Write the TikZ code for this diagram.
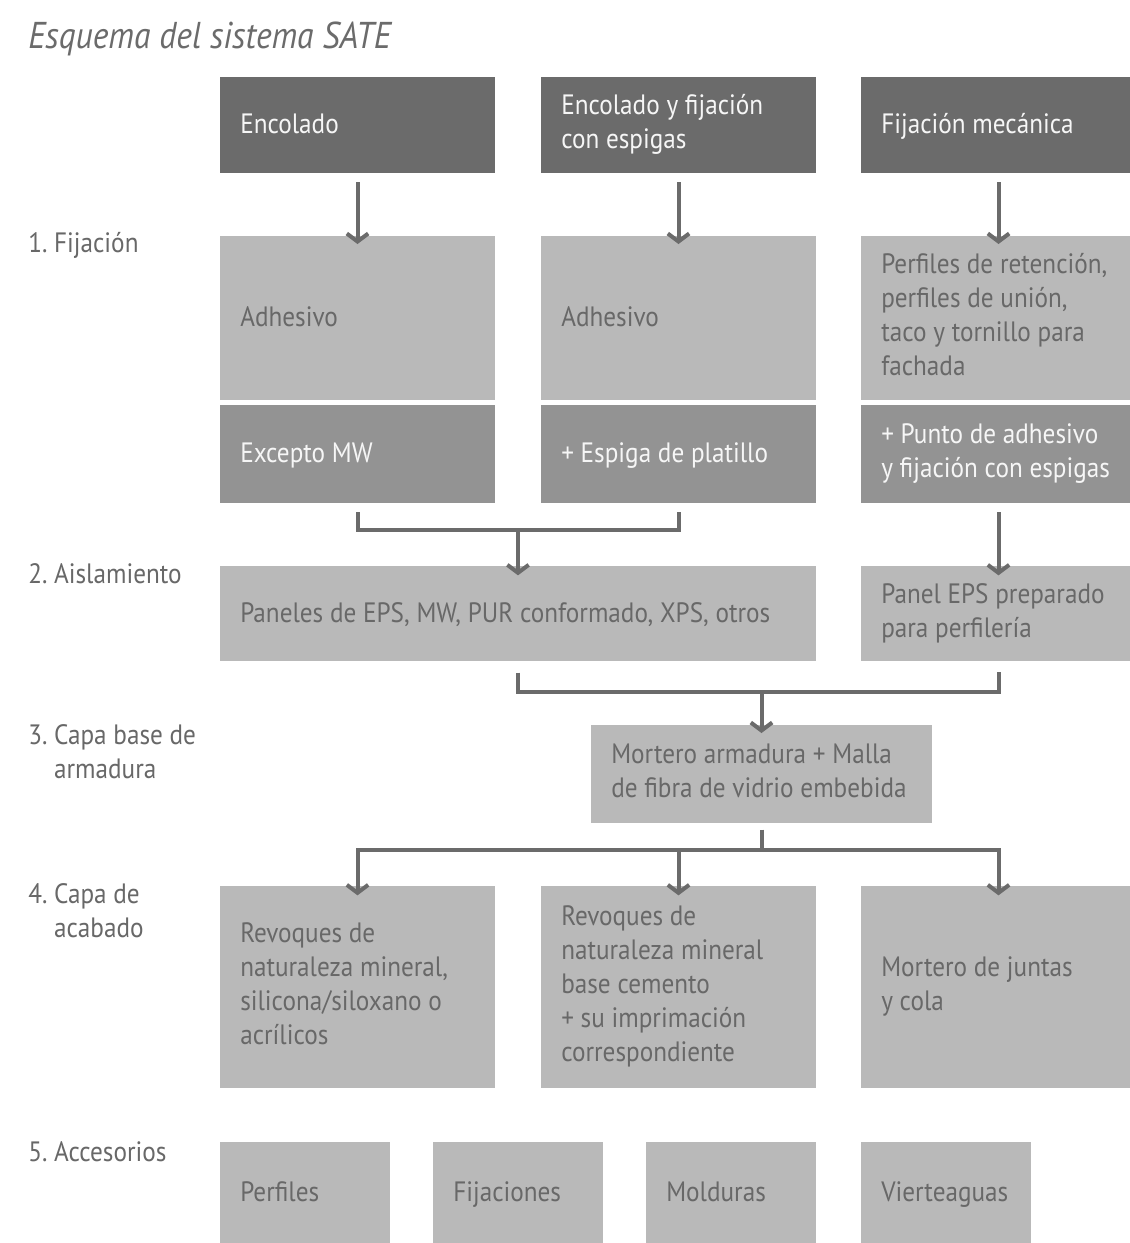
\documentclass[tikz,border=0pt]{standalone}
\usepackage{fontspec}
\setmainfont{PT Sans}[FakeStretch=0.9]
\usetikzlibrary{arrows.meta}
\definecolor{dk}{HTML}{6B6B6B}
\definecolor{md}{HTML}{939393}
\definecolor{lt}{HTML}{B9B9B9}
\definecolor{tx}{HTML}{686868}
\definecolor{wt}{HTML}{F6F6F6}
\tikzset{
  box/.style n args={3}{anchor=north west, inner sep=0pt, outer sep=0pt,
    minimum width=#1, minimum height=#2, fill=#3},
  dkbox/.style 2 args={box={#1}{#2}{dk}},
  mdbox/.style 2 args={box={#1}{#2}{md}},
  ltbox/.style 2 args={box={#1}{#2}{lt}},
  intext/.style={anchor=west, xshift=15pt, yshift=-1.5pt, inner sep=0pt, align=left,
    font=\fontsize{21}{25.5}\selectfont,
    execute at begin node=\strut, execute at end node=\strut},
  wtext/.style={intext, text=wt},
  gtext/.style={intext, text=tx},
  lbl/.style={anchor=west, align=left, inner sep=0pt, text=tx, font=\fontsize{21}{25.5}\selectfont},
  ln/.style={draw=dk, line width=3pt},
  arr/.style={draw=dk, line width=3pt, -{Straight Barb[length=6pt,width=16pt]}}
}
\begin{document}
\begin{tikzpicture}[x=0.75pt,y=-0.75pt]
\useasboundingbox[fill=white] (0,0) rectangle (1129,1243);
% title
\node[anchor=base west, inner sep=0pt, text=dk, font=\fontsize{28}{34}\selectfont\itshape] (title) at (28,48) {Esquema del sistema SATE};
% left labels
\node[lbl] (l1) at (28,245) {1.\ Fijación};
\node[lbl] (l2) at (28,574) {2.\ Aislamiento};
\node[lbl] (l3) at (28,752) {3.\ Capa base de\\\phantom{3.\ }armadura};
\node[lbl] (l4) at (28,911) {4.\ Capa de\\\phantom{4.\ }acabado};
\node[lbl] (l5) at (28,1152) {5.\ Accesorios};
% row 1
\node[dkbox={206.25pt}{72pt}, label={[wtext]west:Encolado}] (e1) at (220,77) {};
\node[dkbox={206.25pt}{72pt}, label={[wtext]west:Encolado y fijación\\con espigas}] (e2) at (541,77) {};
\node[dkbox={206.25pt}{72pt}, label={[wtext]west:Fijación mecánica}] (e3) at (861,77) {};
% row 2
\node[ltbox={206.25pt}{123pt}, label={[gtext]west:Adhesivo}] (a1) at (220,236) {};
\node[ltbox={206.25pt}{123pt}, label={[gtext]west:Adhesivo}] (a2) at (541,236) {};
\node[ltbox={206.25pt}{123pt}, label={[gtext]west:Perfiles de retención,\\perfiles de unión,\\taco y tornillo para\\fachada}] (a3) at (861,236) {};
% row 3
\node[mdbox={206.25pt}{73.5pt}, label={[wtext]west:Excepto MW}] (x1) at (220,405) {};
\node[mdbox={206.25pt}{73.5pt}, label={[wtext]west:+ Espiga de platillo}] (x2) at (541,405) {};
\node[mdbox={206.25pt}{73.5pt}, label={[wtext]west:+ Punto de adhesivo\\y fijación con espigas}] (x3) at (861,405) {};
% row 4
\node[ltbox={447pt}{71pt}, label={[gtext]west:Paneles de EPS, MW, PUR conformado, XPS, otros}] (pan) at (220,566) {};
\node[ltbox={206.25pt}{71.5pt}, label={[gtext]west:Panel EPS preparado\\para perfilería}] (pe) at (861,566) {};
% row 5
\node[ltbox={255.75pt}{73.5pt}, label={[gtext]west:Mortero armadura + Malla\\de fibra de vidrio embebida}] (mor) at (591,725) {};
% row 6
\node[ltbox={206.25pt}{151.5pt}, label={[gtext]west:Revoques de\\naturaleza mineral,\\silicona/siloxano o\\acrílicos}] (r1) at (220,886) {};
\node[ltbox={206.25pt}{151.5pt}, label={[gtext]west:Revoques de\\naturaleza mineral\\base cemento\\+ su imprimación\\correspondiente}] (r2) at (541,886) {};
\node[ltbox={206.25pt}{151.5pt}, label={[gtext]west:Mortero de juntas\\y cola}] (r3) at (861,886) {};
% row 7
\node[ltbox={127.5pt}{76.5pt}, label={[gtext]west:Perfiles}] (s1) at (220,1142) {};
\node[ltbox={127.5pt}{76.5pt}, label={[gtext]west:Fijaciones}] (s2) at (433,1142) {};
\node[ltbox={127.5pt}{76.5pt}, label={[gtext]west:Molduras}] (s3) at (646,1142) {};
\node[ltbox={127.5pt}{76.5pt}, label={[gtext]west:Vierteaguas}] (s4) at (861,1142) {};
% connectors
\coordinate (b1) at (0,530);
\coordinate (b2) at (0,692);
\coordinate (b3) at (0,850);
\draw[arr] ([yshift=-7pt]e1.south) -- ([yshift=-6pt]a1.north);
\draw[arr] ([yshift=-7pt]e2.south) -- ([yshift=-6pt]a2.north);
\draw[arr] ([yshift=-7pt]e3.south) -- ([yshift=-6pt]a3.north);
\draw[ln] ([yshift=-7pt]x1.south) -- (x1.south |- b1) -- (x2.south |- b1) -- ([yshift=-7pt]x2.south);
\draw[arr] (pan.north |- b1) -- ([yshift=-7pt]pan.north);
\draw[arr] ([yshift=-7pt]x3.south) -- ([yshift=-7pt]pe.north);
\draw[ln] ([yshift=-9pt]pan.south) -- (pan.south |- b2) -- (pe.south |- b2) -- ([yshift=-8pt]pe.south);
\draw[arr] (mor.north |- b2) -- ([yshift=-6pt]mor.north);
\draw[ln] ([yshift=-5pt]mor.south) -- (mor.south |- b3);
\draw[arr] (mor.south |- b3) -| ([yshift=-7pt]r1.north);
\draw[arr] (mor.south |- b3) -| ([yshift=-7pt]r3.north);
\draw[arr] (r2.north |- b3) -- ([yshift=-7pt]r2.north);
\end{tikzpicture}
\end{document}
